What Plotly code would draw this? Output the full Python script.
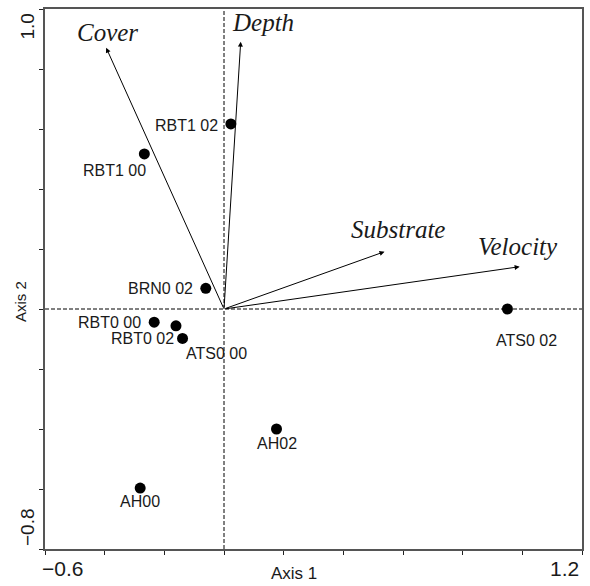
import plotly.graph_objects as go

# ---- data ----
sites = ["RBT1 02", "RBT1 00", "BRN0 02", "RBT0 00", "RBT0 02", "ATS0 00", "AH02", "AH00", "ATS0 02"]
site_x = [0.023, -0.267, -0.061, -0.234, -0.161, -0.139, 0.176, -0.281, 0.950]
site_y = [0.617, 0.517, 0.069, -0.044, -0.056, -0.098, -0.400, -0.597, 0.000]

variables = ["Cover", "Depth", "Substrate", "Velocity"]
var_x = [-0.395, 0.056, 0.538, 0.991]
var_y = [0.871, 0.891, 0.191, 0.141]

x_ticks = [-0.6, -0.4, -0.2, 0.0, 0.2, 0.4, 0.6, 0.8, 1.0, 1.2]
y_ticks = [-0.8, -0.6, -0.4, -0.2, 0.0, 0.2, 0.4, 0.6, 0.8, 1.0]
x_range = [-0.6, 1.2]
y_range = [-0.8, 1.0]

# ---- label placement (pixel offsets: right, down) ----
site_offsets = [(-44, 2), (-30, 17), (-45, 0), (-44.5, 0), (-33, 12.6),
                (34, 15), (0, 14), (0, 13.5), (19, 31.5)]
var_offsets = [(1, -15), (22, -19), (13, -22), (-2, -20)]

SANS = "Liberation Sans, Arial, sans-serif"
SERIF = "Liberation Serif, Times New Roman, serif"
FRAME = "#555555"
TEXT = "#1a1a1a"

fig = go.Figure()

fig.add_trace(go.Scatter(
    x=site_x, y=site_y, mode="markers",
    marker=dict(size=11, color="black"),
    hoverinfo="text", text=sites, showlegend=False,
))

annotations = []
# biplot arrows
for name, vx, vy, (dx, dy) in zip(variables, var_x, var_y, var_offsets):
    annotations.append(dict(
        x=vx, y=vy, ax=0, ay=0, xref="x", yref="y", axref="x", ayref="y",
        showarrow=True, arrowhead=2, arrowsize=1, arrowwidth=1,
        arrowcolor="black", standoff=0, startstandoff=0, text="",
    ))
    annotations.append(dict(
        x=vx, y=vy, xref="x", yref="y", showarrow=False,
        text="<i>%s</i>" % name, xshift=dx, yshift=-dy,
        xanchor="center", yanchor="middle",
        font=dict(family=SERIF, size=25, color=TEXT),
    ))

# site labels
for name, sx, sy, (dx, dy) in zip(sites, site_x, site_y, site_offsets):
    annotations.append(dict(
        x=sx, y=sy, xref="x", yref="y", showarrow=False,
        text=name, xshift=dx, yshift=-dy,
        xanchor="center", yanchor="middle",
        font=dict(family=SANS, size=16, color=TEXT),
    ))

# end tick labels
tick_font_x = dict(family=SANS, size=21, color=TEXT)
tick_font_y = dict(family=SANS, size=19, color=TEXT)
annotations += [
    dict(x=x_range[0], y=0, xref="x", yref="paper", text="\u22120.6", showarrow=False,
         xanchor="left", yanchor="middle", xshift=-5, yshift=-19, font=tick_font_x),
    dict(x=x_range[1], y=0, xref="x", yref="paper", text="1.2", showarrow=False,
         xanchor="right", yanchor="middle", xshift=-1, yshift=-19, font=tick_font_x),
    dict(x=0, y=y_range[1], xref="paper", yref="y", text="1.0", showarrow=False,
         textangle=-90, xanchor="center", yanchor="middle", xshift=-18.5, yshift=-18,
         font=tick_font_y),
    dict(x=0, y=y_range[0], xref="paper", yref="y", text="\u22120.8", showarrow=False,
         textangle=-90, xanchor="center", yanchor="middle", xshift=-18, yshift=22,
         font=tick_font_y),
    dict(x=(295 - 45) / 539, y=0, xref="paper", yref="paper", text="Axis 1", showarrow=False,
         xanchor="center", yanchor="middle", yshift=-24,
         font=dict(family=SANS, size=17, color=TEXT)),
    dict(x=0, y=(549 - 302) / 540, xref="paper", yref="paper", text="Axis 2", showarrow=False,
         textangle=-90, xanchor="center", yanchor="middle", xshift=-24,
         font=dict(family=SANS, size=15, color=TEXT)),
]

shapes = [
    dict(type="line", xref="x", yref="paper", x0=0, x1=0, y0=0, y1=1,
         line=dict(color="black", width=1, dash="4px,2px"), layer="below"),
    dict(type="line", xref="paper", yref="y", x0=0, x1=1, y0=0, y1=0,
         line=dict(color="black", width=1, dash="4px,2px"), layer="below"),
]

fig.update_layout(
    width=590, height=586,
    margin=dict(l=45, r=6, t=9, b=37),
    paper_bgcolor="white", plot_bgcolor="white",
    annotations=annotations, shapes=shapes,
    xaxis=dict(range=x_range, tickvals=x_ticks, showticklabels=False,
               ticks="outside", ticklen=4, tickcolor="#222222", tickwidth=1,
               showline=True, mirror=True, linecolor=FRAME, linewidth=1.5,
               showgrid=False, zeroline=False, fixedrange=True),
    yaxis=dict(range=y_range, tickvals=y_ticks, showticklabels=False,
               ticks="outside", ticklen=4, tickcolor="#222222", tickwidth=1,
               showline=True, mirror=True, linecolor=FRAME, linewidth=1.5,
               showgrid=False, zeroline=False, fixedrange=True),
)

fig.write_html("out.html")
